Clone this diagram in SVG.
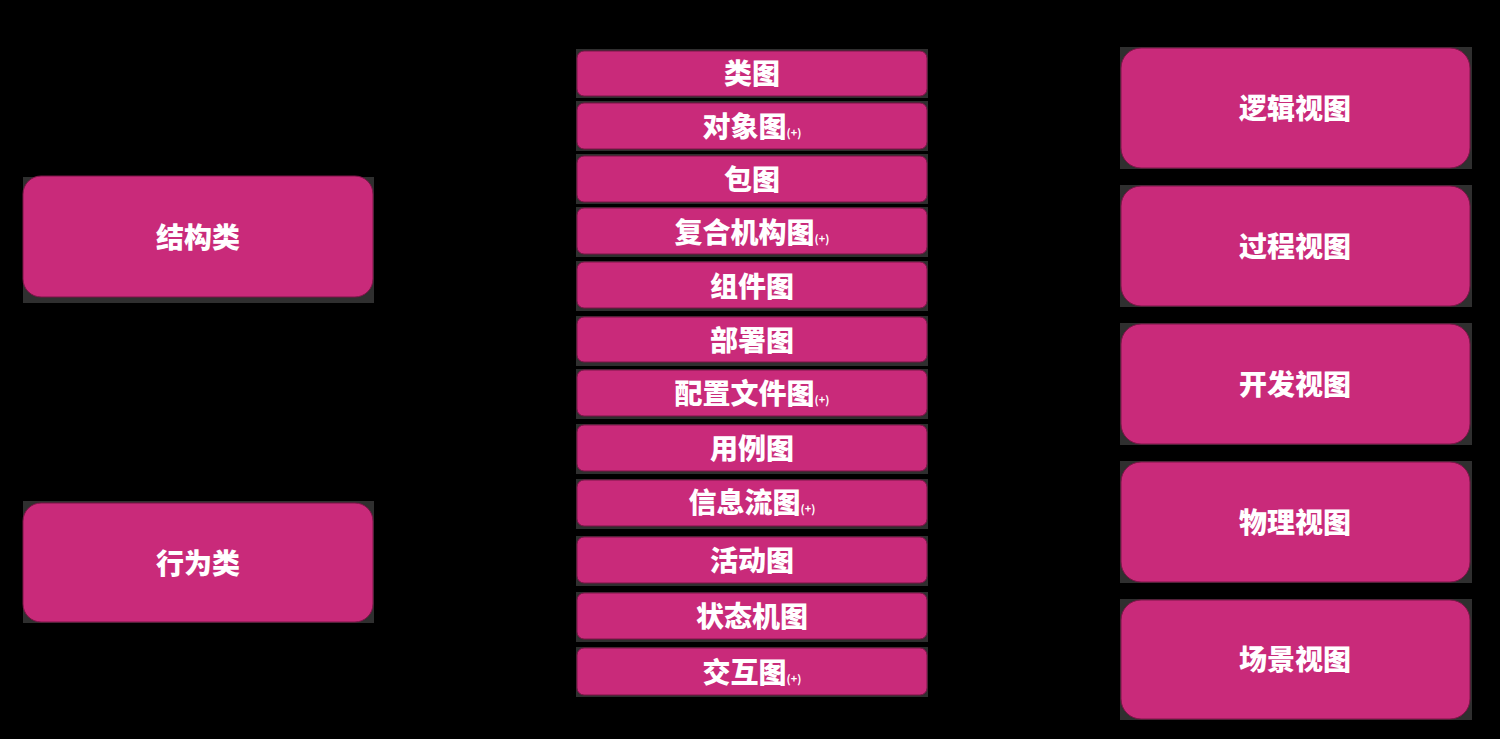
<svg xmlns="http://www.w3.org/2000/svg" width="1500" height="739" viewBox="0 0 1500 739">
<style>
.sh{fill:#2f2f2f}
.bx{fill:#C92A7A;stroke:#7a1446;stroke-width:1}
.t{font-family:"Noto Sans CJK SC","Noto Sans",sans-serif;font-weight:900;font-size:28px;fill:#ffffff;text-anchor:middle}
.s{font-size:11px;font-weight:bold}
.c{fill:none;stroke:#000000;stroke-width:2}
</style>
<rect x="0" y="0" width="1500" height="739" fill="#000000"/>
<g id="connectors">
<path class="c" d="M373 237 H475 V74 H577"/>
<path class="c" d="M373 237 H475 V126 H577"/>
<path class="c" d="M373 237 H475 V179 H577"/>
<path class="c" d="M373 237 H577"/>
<path class="c" d="M373 237 H475 V285 H577"/>
<path class="c" d="M373 237 H475 V340 H577"/>
<path class="c" d="M373 237 H475 V393 H577"/>
<path class="c" d="M373 563 H475 V448 H577"/>
<path class="c" d="M373 563 H475 V503 H577"/>
<path class="c" d="M373 563 H475 V560 H577"/>
<path class="c" d="M373 563 H475 V616 H577"/>
<path class="c" d="M373 563 H475 V671 H577"/>
</g>
<g id="n-structure"><rect class="sh" x="23" y="177" width="351" height="126"/><rect class="bx" x="23" y="176" width="350" height="121" rx="18"/><text class="t" x="198" y="248">结构类</text></g>
<g id="n-behavior"><rect class="sh" x="23" y="501" width="351" height="122"/><rect class="bx" x="23" y="503" width="350" height="119" rx="18"/><text class="t" x="198" y="574">行为类</text></g>
<g id="n-class"><rect class="sh" x="576" y="49" width="352" height="49"/><rect class="bx" x="577" y="51" width="350" height="45" rx="7"/><text class="t" x="752" y="84">类图</text></g>
<g id="n-object"><rect class="sh" x="576" y="101" width="352" height="50"/><rect class="bx" x="577" y="103" width="350" height="46" rx="7"/><text class="t" x="752" y="137">对象图<tspan class="s">(+)</tspan></text></g>
<g id="n-package"><rect class="sh" x="576" y="154" width="352" height="50"/><rect class="bx" x="577" y="156" width="350" height="46" rx="7"/><text class="t" x="752" y="190">包图</text></g>
<g id="n-composite"><rect class="sh" x="576" y="207" width="352" height="50"/><rect class="bx" x="577" y="208" width="350" height="46" rx="7"/><text class="t" x="752" y="243">复合机构图<tspan class="s">(+)</tspan></text></g>
<g id="n-component"><rect class="sh" x="576" y="261" width="352" height="50"/><rect class="bx" x="577" y="262" width="350" height="46" rx="7"/><text class="t" x="752" y="297">组件图</text></g>
<g id="n-deployment"><rect class="sh" x="576" y="316" width="352" height="50"/><rect class="bx" x="577" y="317" width="350" height="45" rx="7"/><text class="t" x="752" y="351">部署图</text></g>
<g id="n-profile"><rect class="sh" x="576" y="369" width="352" height="50"/><rect class="bx" x="577" y="370" width="350" height="46" rx="7"/><text class="t" x="752" y="404">配置文件图<tspan class="s">(+)</tspan></text></g>
<g id="n-usecase"><rect class="sh" x="576" y="424" width="352" height="50"/><rect class="bx" x="577" y="425" width="350" height="46" rx="7"/><text class="t" x="752" y="459">用例图</text></g>
<g id="n-infoflow"><rect class="sh" x="576" y="479" width="352" height="50"/><rect class="bx" x="577" y="480" width="350" height="46" rx="7"/><text class="t" x="752" y="513">信息流图<tspan class="s">(+)</tspan></text></g>
<g id="n-activity"><rect class="sh" x="576" y="536" width="352" height="50"/><rect class="bx" x="577" y="537" width="350" height="46" rx="7"/><text class="t" x="752" y="571">活动图</text></g>
<g id="n-statemachine"><rect class="sh" x="576" y="592" width="352" height="50"/><rect class="bx" x="577" y="593" width="350" height="46" rx="7"/><text class="t" x="752" y="627">状态机图</text></g>
<g id="n-interaction"><rect class="sh" x="576" y="647" width="352" height="50"/><rect class="bx" x="577" y="648" width="350" height="47" rx="7"/><text class="t" x="752" y="683">交互图<tspan class="s">(+)</tspan></text></g>
<g id="n-logical"><rect class="sh" x="1120" y="47" width="352" height="122"/><rect class="bx" x="1121" y="48" width="349" height="120" rx="20"/><text class="t" x="1295" y="119">逻辑视图</text></g>
<g id="n-process"><rect class="sh" x="1120" y="185" width="352" height="122"/><rect class="bx" x="1121" y="186" width="349" height="120" rx="20"/><text class="t" x="1295" y="257">过程视图</text></g>
<g id="n-development"><rect class="sh" x="1120" y="323" width="352" height="122"/><rect class="bx" x="1121" y="324" width="349" height="120" rx="20"/><text class="t" x="1295" y="395">开发视图</text></g>
<g id="n-physical"><rect class="sh" x="1120" y="461" width="352" height="122"/><rect class="bx" x="1121" y="462" width="349" height="120" rx="20"/><text class="t" x="1295" y="533">物理视图</text></g>
<g id="n-scenario"><rect class="sh" x="1120" y="599" width="352" height="121"/><rect class="bx" x="1121" y="600" width="349" height="119" rx="20"/><text class="t" x="1295" y="670">场景视图</text></g>
</svg>
